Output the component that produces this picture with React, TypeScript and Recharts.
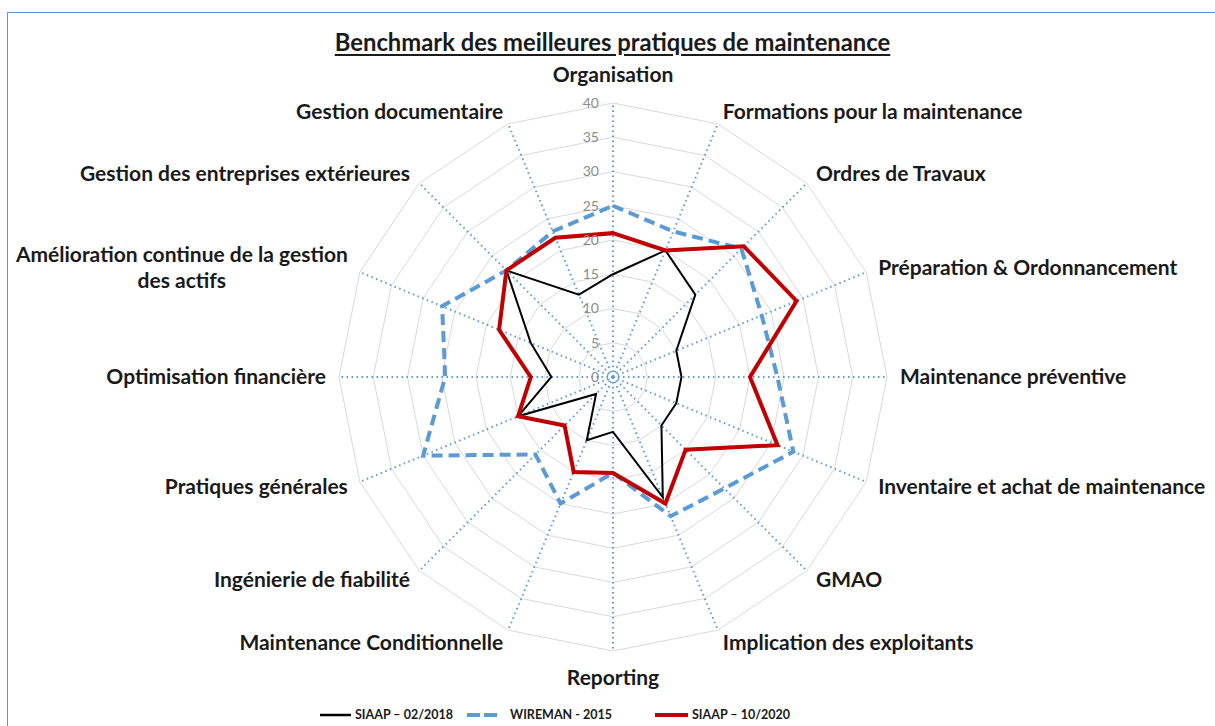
import {
  PolarAngleAxis,
  PolarGrid,
  PolarRadiusAxis,
  Radar,
  RadarChart,
} from "recharts";

const CATEGORIES = [
  "Organisation",
  "Formations pour la maintenance",
  "Ordres de Travaux",
  "Préparation & Ordonnancement",
  "Maintenance préventive",
  "Inventaire et achat de maintenance",
  "GMAO",
  "Implication des exploitants",
  "Reporting",
  "Maintenance Conditionnelle",
  "Ingénierie de fiabilité",
  "Pratiques générales",
  "Optimisation financière",
  "Amélioration continue de la gestion des actifs",
  "Gestion des entreprises extérieures",
  "Gestion documentaire",
];

const SIAAP_2018 = [15, 20, 17, 10, 10, 10, 10, 19, 8, 10, 3.5, 15, 9, 13, 22, 13];
const WIREMAN_2015 = [25, 23, 26.5, 23.5, 24, 28.5, 23, 22, 14, 20, 16, 30, 24.5, 27, 22, 23];
const SIAAP_2020 = [21, 20, 27, 29, 20, 26, 15, 20, 14, 15, 10, 15, 12, 18, 22, 22];

const SERIES_NAMES = ["SIAAP – 02/2018", "WIREMAN - 2015", "SIAAP – 10/2020"];

// long labels are wrapped like Excel does
const WRAPPED: Record<string, string[]> = {
  "Amélioration continue de la gestion des actifs": [
    "Amélioration continue de la gestion",
    "des actifs",
  ],
};

const FONT = "Lato, 'Open Sans', sans-serif";
const CX = 613;
const CY = 377;

const data = CATEGORIES.map((category, i) => ({
  category,
  s2018: SIAAP_2018[i],
  wireman: WIREMAN_2015[i],
  s2020: SIAAP_2020[i],
}));

function AngleTick(props: any) {
  const { x, y, payload, textAnchor } = props;
  const label: string = payload.value;
  const style = { fontFamily: FONT, fontSize: 21, fontWeight: 700, fill: "#1a1a1a" };

  if (textAnchor === "middle") {
    const yy = y < CY ? y - 15 : y + 14;
    return (
      <text x={x} y={yy} dy="0.35em" textAnchor="middle" style={style}>
        {label}
      </text>
    );
  }

  const lines = WRAPPED[label];
  if (lines) {
    return (
      <g>
        <text x={x} y={y - 13} dy="0.35em" textAnchor="end" style={style}>
          {lines[0]}
        </text>
        <text x={x - 166} y={y + 13} dy="0.35em" textAnchor="middle" style={style}>
          {lines[1]}
        </text>
      </g>
    );
  }

  return (
    <text x={x} y={y} dy="0.35em" textAnchor={textAnchor} style={style}>
      {label}
    </text>
  );
}

function RadiusTick(props: any) {
  const { x, y, payload } = props;
  return (
    <text
      x={x - 14}
      y={y}
      dy="0.35em"
      textAnchor="end"
      style={{ fontFamily: FONT, fontSize: 14, fill: "#8c8c8c" }}
    >
      {payload.value}
    </text>
  );
}

const legendText = { fontFamily: FONT, fontSize: 12.5, fontWeight: 700 };

export default function App() {
  return (
    <div
      style={{
        position: "absolute",
        left: 0,
        top: 0,
        width: 1215,
        height: 726,
        background: "#fff",
        overflow: "hidden",
        fontFamily: FONT,
      }}
    >
      <div
        style={{
          position: "absolute",
          left: 7,
          top: 12,
          width: 1400,
          height: 900,
          borderTop: "1.5px solid #5B9BD5",
          borderLeft: "1.5px solid #5B9BD5",
        }}
      />
      <div
        style={{
          position: "absolute",
          left: 0,
          top: 29,
          width: 1225,
          textAlign: "center",
          fontSize: 23.8,
          lineHeight: "26px",
          fontWeight: 700,
          color: "#1a1a1a",
          textDecoration: "underline",
          textUnderlineOffset: 3,
        }}
      >
        Benchmark des meilleures pratiques de maintenance
      </div>

      <div style={{ position: "absolute", left: 0, top: 0 }}>
        <RadarChart
          width={1215}
          height={726}
          data={data}
          cx={CX}
          cy={CY}
          outerRadius={274}
          margin={{ top: 0, right: 0, bottom: 0, left: 0 }}
        >
          <PolarGrid gridType="polygon" radialLines={false} stroke="#d9d9d9" strokeWidth={1} />
          <PolarGrid
            gridType="polygon"
            polarRadius={[]}
            stroke="#5B9BD5"
            strokeWidth={2}
            strokeDasharray="1.5 3.5"
          />
          <PolarAngleAxis
            dataKey="category"
            tick={AngleTick}
            tickLine={false}
            axisLine={false}
            tickSize={13}
          />
          <PolarRadiusAxis
            angle={90}
            domain={[0, 40]}
            tickCount={9}
            axisLine={false}
            tickLine={false}
            tick={RadiusTick}
          />
          <Radar
            name={SERIES_NAMES[0]}
            dataKey="s2018"
            stroke="#000000"
            strokeWidth={2}
            fill="none"
            fillOpacity={0}
            isAnimationActive={false}
          />
          <Radar
            name={SERIES_NAMES[1]}
            dataKey="wireman"
            stroke="#5B9BD5"
            strokeWidth={4}
            strokeDasharray="11 6"
            fill="none"
            fillOpacity={0}
            isAnimationActive={false}
          />
          <Radar
            name={SERIES_NAMES[2]}
            dataKey="s2020"
            stroke="#C00000"
            strokeWidth={4}
            fill="none"
            fillOpacity={0}
            isAnimationActive={false}
          />
        </RadarChart>
      </div>

      <svg
        width={1215}
        height={30}
        style={{ position: "absolute", left: 0, top: 700 }}
      >
        <line x1={320} x2={351} y1={15} y2={15} stroke="#000" strokeWidth={2.5} />
        <text x={355} y={15} dy="0.35em" style={legendText} fill="#1a1a1a">
          {SERIES_NAMES[0]}
        </text>
        <line x1={467} x2={497} y1={15} y2={15} stroke="#5B9BD5" strokeWidth={4} strokeDasharray="13 4" />
        <text x={510} y={15} dy="0.35em" style={legendText} fill="#1a1a1a">
          {SERIES_NAMES[1]}
        </text>
        <line x1={655} x2={688} y1={15} y2={15} stroke="#C00000" strokeWidth={4} />
        <text x={692} y={15} dy="0.35em" style={legendText} fill="#1a1a1a">
          {SERIES_NAMES[2]}
        </text>
      </svg>
    </div>
  );
}
